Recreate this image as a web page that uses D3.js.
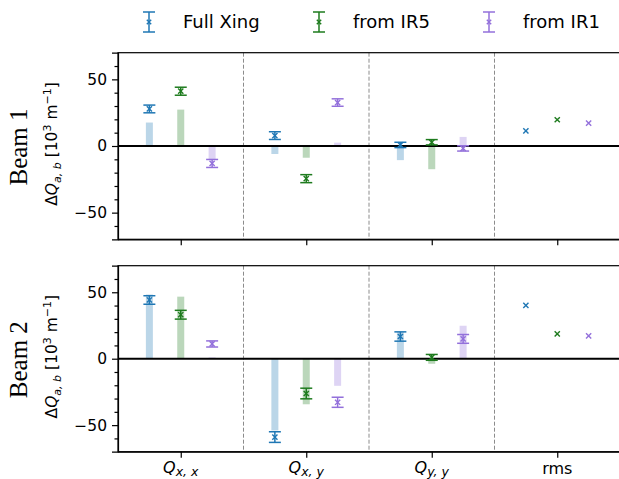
<!DOCTYPE html>
<html>
<head>
  <meta charset="utf-8">
  <title>Beam 1 / Beam 2 detuning</title>
  <style>
    body { margin: 0; background: #fff; }
    svg text { font-family: "DejaVu Sans", sans-serif; fill: #000; }
    .axis path, .axis line { stroke: #000; stroke-width: 1.2px; }
    .axis text { font-size: 15.5px; }
    .beam { font-family: "Liberation Serif", "DejaVu Serif", serif; font-size: 25px; }
  </style>
</head>
<body>
<div id="chart"></div>
<script src="https://d3js.org/d3.v7.min.js"></script>
<script>
  // categories and series
  var categories = ["xx", "xy", "yy", "rms"];
  var seriesNames = ["Full Xing", "from IR5", "from IR1"];
  var seriesColors = ["#1f77b4", "#1e7b1e", "#9370db"];
  var offsets = [-0.25, 0, 0.25];

  // Beam 1 : points, error bars, background bars (bars only for Qxx, Qxy, Qyy)
  var b1FullPts = [27.8, 7.8, 0.8, 11.4];
  var b1FullErr = [2.9, 2.9, 2.0, 0];
  var b1FullBar = [17.6, -6.0, -10.6];
  var b1Ir5Pts = [41.1, -24.5, 2.8, 19.7];
  var b1Ir5Err = [3.0, 3.0, 2.0, 0];
  var b1Ir5Bar = [27.3, -8.8, -17.4];
  var b1Ir1Pts = [-13.1, 32.6, -1.8, 17.2];
  var b1Ir1Err = [3.0, 2.8, 2.0, 0];
  var b1Ir1Bar = [-10.0, 2.5, 6.8];

  // Beam 2
  var b2FullPts = [44.2, -59.0, 16.7, 40.2];
  var b2FullErr = [3.2, 4.0, 3.5, 0];
  var b2FullBar = [48.3, -54.0, 20.2];
  var b2Ir5Pts = [33.1, -26.2, 1.0, 18.7];
  var b2Ir5Err = [3.3, 4.0, 2.2, 0];
  var b2Ir5Bar = [46.7, -34.3, -3.8];
  var b2Ir1Pts = [11.1, -32.8, 14.9, 17.2];
  var b2Ir1Err = [2.3, 3.8, 3.3, 0];
  var b2Ir1Bar = [1.0, -20.4, 24.8];

  var yTicks = [-50, 0, 50];
  var yMinor = [-60, -40, -30, -20, -10, 10, 20, 30, 40, 60];
  var dividers = [0.5, 1.5, 2.5];

  var width = 619, height = 479;
  var left = 118, right = 620;

  var svg = d3.select("#chart").append("svg")
      .attr("width", width).attr("height", height);

  var x = d3.scaleLinear().domain([-0.5, 3.5]).range([left, right]);

  function drawMarker(g, cx, cy, color, s) {
    g.append("path")
      .attr("d", "M" + (cx - s) + "," + (cy - s) + "L" + (cx + s) + "," + (cy + s) +
                 "M" + (cx - s) + "," + (cy + s) + "L" + (cx + s) + "," + (cy - s))
      .attr("stroke", color).attr("stroke-width", 1.4).attr("fill", "none");
  }

  function drawErrorBar(g, cx, y0, y1, color, cap) {
    g.append("line").attr("x1", cx).attr("x2", cx).attr("y1", y0).attr("y2", y1)
      .attr("stroke", color).attr("stroke-width", 1.5);
    [y0, y1].forEach(function (yy) {
      g.append("line").attr("x1", cx - cap).attr("x2", cx + cap).attr("y1", yy).attr("y2", yy)
        .attr("stroke", color).attr("stroke-width", 1.5);
    });
  }

  function panel(top, bottom, beamLabel, pts, errs, bars, showLabels) {
    var y = d3.scaleLinear().domain([-70, 70]).range([bottom, top]);
    var g = svg.append("g");

    // group separators
    g.selectAll("line.div").data(dividers).enter().append("line")
      .attr("x1", function (d) { return x(d); }).attr("x2", function (d) { return x(d); })
      .attr("y1", top).attr("y2", bottom)
      .attr("stroke", "#8c8c8c").attr("stroke-width", 1).attr("stroke-dasharray", "4,2");

    // faint bars
    bars.forEach(function (vals, s) {
      g.selectAll(null).data(vals).enter().append("rect")
        .attr("x", function (d, i) { return x(i + offsets[s]) - 3.5; })
        .attr("width", 7)
        .attr("y", function (d) { return y(Math.max(0, d)); })
        .attr("height", function (d) { return Math.abs(y(d) - y(0)); })
        .attr("fill", seriesColors[s]).attr("fill-opacity", 0.3);
    });

    // zero line
    g.append("line").attr("x1", left).attr("x2", right).attr("y1", y(0)).attr("y2", y(0))
      .attr("stroke", "#000").attr("stroke-width", 2);

    // error bars + markers
    pts.forEach(function (vals, s) {
      vals.forEach(function (v, i) {
        var cx = x(i + offsets[s]);
        var e = errs[s][i];
        if (e > 0) drawErrorBar(g, cx, y(v - e), y(v + e), seriesColors[s], 6);
        drawMarker(g, cx, y(v), seriesColors[s], 2.6);
      });
    });

    // axes
    g.append("g").attr("class", "axis").attr("transform", "translate(" + left + ",0)")
      .call(d3.axisLeft(y).tickValues(yTicks).tickSize(6).tickPadding(5)
        .tickFormat(function (d) { return d < 0 ? "\u2212" + Math.abs(d) : d; }));
    g.append("g").attr("class", "axis").attr("transform", "translate(" + left + ",0)")
      .call(d3.axisLeft(y).tickValues(yMinor).tickSize(3.5).tickFormat(""))
      .select(".domain").remove();
    g.append("g").attr("class", "axis").attr("transform", "translate(0," + bottom + ")")
      .call(d3.axisBottom(x).tickValues([0, 1, 2, 3]).tickSize(6).tickSizeOuter(0).tickFormat(""));

    // frame
    g.append("rect").attr("x", left).attr("y", top).attr("width", right - left)
      .attr("height", bottom - top).attr("fill", "none")
      .attr("stroke", "#000").attr("stroke-width", 1.2);

    if (showLabels) {
      categories.forEach(function (c, i) {
        var t = g.append("text").attr("x", x(i)).attr("y", 473)
          .attr("text-anchor", "middle").style("font-size", "16px");
        if (c === "rms") {
          t.attr("y", 474).text("rms");
        } else {
          t.append("tspan").attr("font-style", "italic").text("Q");
          t.append("tspan").attr("font-style", "italic").attr("dy", 2.5)
            .style("font-size", "12.5px").text(c[0] + ", " + c[1]);
        }
      });
    }

    var cy = (top + bottom) / 2;
    // beam label
    g.append("text").attr("class", "beam")
      .attr("transform", "translate(27," + (cy + 1) + ") rotate(-90)")
      .attr("text-anchor", "middle").text(beamLabel);
    // y label
    var yl = g.append("text")
      .attr("transform", "translate(57," + (cy - 2) + ") rotate(-90)")
      .attr("text-anchor", "middle").style("font-size", "15.5px");
    yl.append("tspan").text("\u0394");
    yl.append("tspan").attr("font-style", "italic").text("Q");
    yl.append("tspan").attr("font-style", "italic").attr("dy", 4).style("font-size", "11px").text("a, b");
    yl.append("tspan").attr("dy", -4).text(" [10");
    yl.append("tspan").attr("dy", -6).style("font-size", "11px").text("3");
    yl.append("tspan").attr("dy", 6).text(" m");
    yl.append("tspan").attr("dy", -6).style("font-size", "11px").text("\u22121");
    yl.append("tspan").attr("dy", 6).text("]");
  }

  panel(52.7, 239.3, "Beam 1",
    [b1FullPts, b1Ir5Pts, b1Ir1Pts], [b1FullErr, b1Ir5Err, b1Ir1Err],
    [b1FullBar, b1Ir5Bar, b1Ir1Bar], false);
  panel(265.7, 451.7, "Beam 2",
    [b2FullPts, b2Ir5Pts, b2Ir1Pts], [b2FullErr, b2Ir5Err, b2Ir1Err],
    [b2FullBar, b2Ir5Bar, b2Ir1Bar], true);

  // legend
  var legIconX = [149, 319, 489];
  var leg = svg.append("g");
  seriesNames.forEach(function (name, s) {
    drawErrorBar(leg, legIconX[s], 12, 32, seriesColors[s], 6);
    drawMarker(leg, legIconX[s], 22, seriesColors[s], 2.2);
    leg.append("text").attr("x", legIconX[s] + 34).attr("y", 28)
      .style("font-size", "18px").text(name);
  });
</script>
</body>
</html>
